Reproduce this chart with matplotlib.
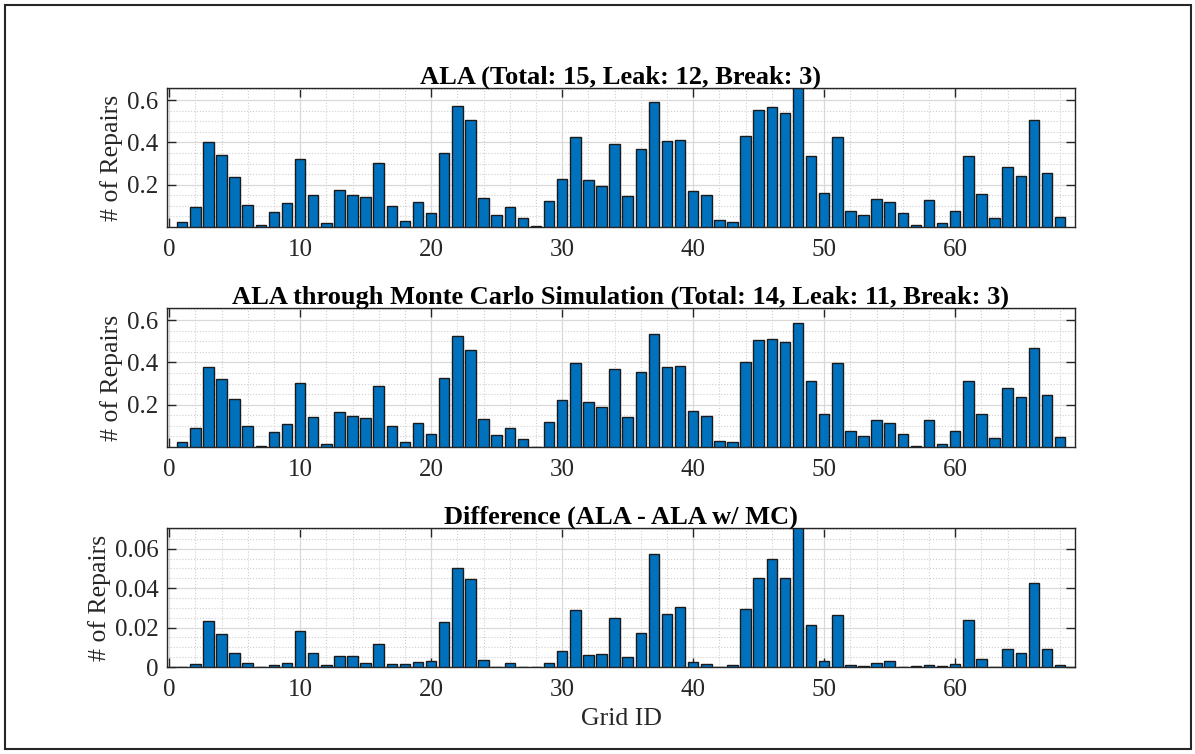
import numpy as np
import matplotlib
matplotlib.use("Agg")
import matplotlib.pyplot as plt
from matplotlib.ticker import MultipleLocator
from matplotlib.patches import Rectangle

grid_ids = list(range(1, 69))

ala = [0.025, 0.093, 0.403, 0.340, 0.234, 0.102, 0.008, 0.072, 0.113, 0.320,
       0.151, 0.019, 0.174, 0.152, 0.140, 0.301, 0.100, 0.027, 0.116, 0.066,
       0.348, 0.574, 0.504, 0.138, 0.056, 0.094, 0.041, 0.003, 0.122, 0.229,
       0.425, 0.223, 0.195, 0.391, 0.146, 0.369, 0.591, 0.406, 0.413, 0.171,
       0.149, 0.031, 0.024, 0.428, 0.552, 0.566, 0.541, 0.657, 0.334, 0.160,
       0.424, 0.077, 0.055, 0.132, 0.116, 0.064, 0.008, 0.129, 0.017, 0.077,
       0.334, 0.158, 0.044, 0.285, 0.243, 0.508, 0.257, 0.049]

ala_mc = [0.025, 0.089, 0.380, 0.323, 0.227, 0.099, 0.006, 0.069, 0.110, 0.301,
          0.144, 0.016, 0.166, 0.146, 0.136, 0.287, 0.097, 0.024, 0.113, 0.061,
          0.325, 0.524, 0.460, 0.133, 0.055, 0.089, 0.038, 0.002, 0.118, 0.220,
          0.398, 0.215, 0.187, 0.367, 0.141, 0.353, 0.535, 0.380, 0.383, 0.168,
          0.146, 0.030, 0.022, 0.400, 0.507, 0.511, 0.497, 0.588, 0.314, 0.157,
          0.398, 0.075, 0.053, 0.129, 0.113, 0.063, 0.006, 0.127, 0.016, 0.074,
          0.312, 0.154, 0.042, 0.278, 0.237, 0.467, 0.248, 0.047]

difference = [0.0002, 0.0017, 0.0233, 0.0168, 0.0071, 0.0022, 0.0, 0.0012, 0.0022, 0.0185,
              0.0071, 0.0008, 0.0058, 0.0056, 0.0019, 0.0119, 0.0017, 0.0014, 0.0027, 0.0032,
              0.0228, 0.0500, 0.0444, 0.0034, 0.0001, 0.0022, 0.0002, 0.0001, 0.0022, 0.0080,
              0.0287, 0.0061, 0.0066, 0.0250, 0.0051, 0.0170, 0.0571, 0.0270, 0.0304, 0.0024,
              0.0017, 0.0002, 0.0012, 0.0296, 0.0450, 0.0547, 0.0450, 0.0705, 0.0212, 0.0032,
              0.0262, 0.0008, 0.0003, 0.0020, 0.0031, 0.0002, 0.0003, 0.0010, 0.0005, 0.0017,
              0.0240, 0.0039, 0.0002, 0.0090, 0.0073, 0.0425, 0.0093, 0.0008]

titles = ["ALA (Total: 15, Leak: 12, Break: 3)",
          "ALA through Monte Carlo Simulation (Total: 14, Leak: 11, Break: 3)",
          "Difference (ALA - ALA w/ MC)"]

plt.rcParams['font.family'] = ['Liberation Serif', 'DejaVu Serif']

W, H = 1195, 754
fig = plt.figure(figsize=(W / 100, H / 100), dpi=100)

# frame around the whole figure
fig.patches.append(Rectangle((5 / W, 5 / H), (1191 - 5) / W, (749 - 5) / H,
                             transform=fig.transFigure, fill=False,
                             edgecolor='#262626', linewidth=1.5))

text_col = '#262626'
left, right = 167, 1075
panels = [(88, 227), (308, 447), (528, 667)]
series = [ala, ala_mc, difference]
ylims = [0.657, 0.657, 0.0705]
major = [0.2, 0.2, 0.02]
minor = [0.05, 0.05, 0.005]

for i, (top, bottom) in enumerate(panels):
    ax = fig.add_axes([left / W, 1 - bottom / H, (right - left) / W, (bottom - top) / H])
    ax.bar(grid_ids, series[i], width=0.8, color='#0072BD', edgecolor='#1a1a1a',
           linewidth=1.0, zorder=3)
    ax.set_xlim(-0.16, 69.14)
    ax.set_ylim(0, ylims[i])
    ax.xaxis.set_major_locator(MultipleLocator(10))
    ax.xaxis.set_minor_locator(MultipleLocator(2))
    ax.yaxis.set_major_locator(MultipleLocator(major[i]))
    ax.yaxis.set_minor_locator(MultipleLocator(minor[i]))
    if i < 2:
        ax.set_yticks([0.2, 0.4, 0.6])
    ax.grid(which='major', color='#d9d9d9', linewidth=0.9, zorder=0)
    ax.grid(which='minor', color='#cfcfcf', linestyle=':', linewidth=0.8, zorder=0)
    ax.set_axisbelow(True)
    ax.tick_params(which='major', direction='in', length=6.5, width=1.0,
                   top=True, right=True, labelsize=18, colors=text_col)
    ax.tick_params(axis='x', pad=9)
    ax.tick_params(axis='y', pad=6)
    ax.tick_params(which='minor', length=0)
    for s in ax.spines.values():
        s.set_color(text_col)
        s.set_linewidth(1.0)
    ax.set_title(titles[i], fontsize=19, fontweight='bold', pad=3, color='black')
    ax.set_ylabel('# of Repairs', fontsize=18.5, color=text_col, labelpad=3)
    if i == 2:
        ax.set_xlabel('Grid ID', fontsize=18.5, color=text_col, labelpad=5)
        ax.yaxis.set_major_formatter(plt.FuncFormatter(lambda v, p: '0' if v == 0 else f'{v:.2f}'))

fig.savefig('out.png', dpi=100)
